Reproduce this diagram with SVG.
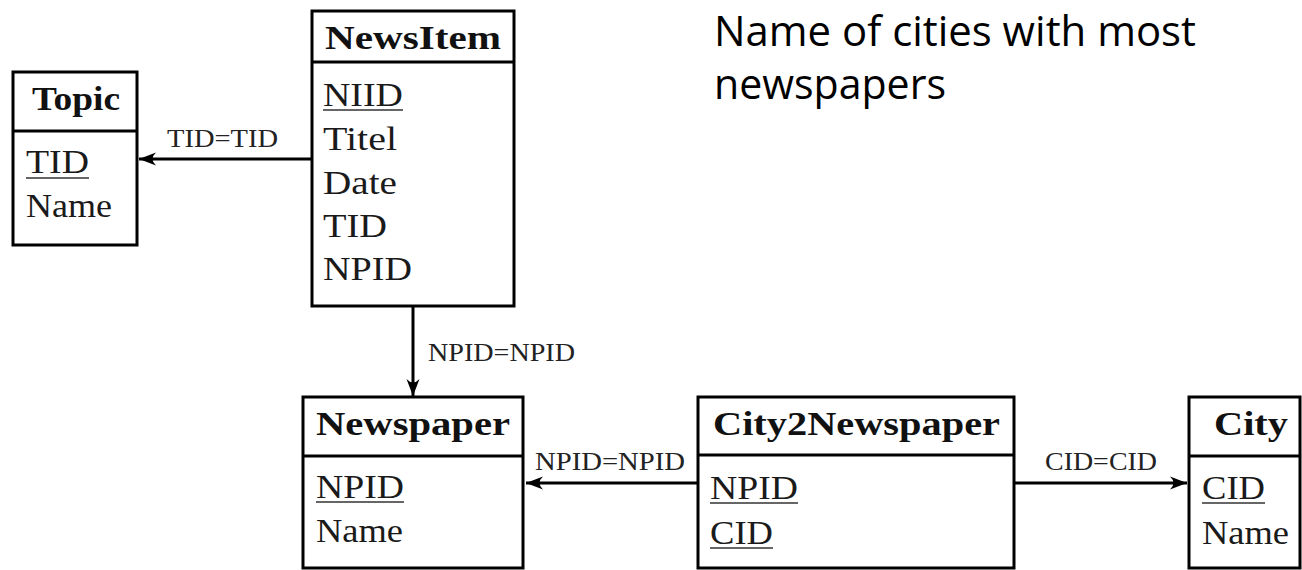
<svg xmlns="http://www.w3.org/2000/svg" width="1302" height="570" viewBox="0 0 1302 570">
<style>
.box{fill:#fff;stroke:#000;stroke-width:3}
.sep{stroke:#000;stroke-width:3}
.hd{font-family:"Liberation Serif",serif;font-weight:bold;font-size:33px;fill:#111}
.at{font-family:"Liberation Serif",serif;font-size:33px;fill:#1a1a1a}
.ul{stroke:#333;stroke-width:1.6}
.lb{font-family:"Liberation Serif",serif;font-size:26px;fill:#222}
.cn{stroke:#000;stroke-width:3;fill:none}
.ttl{font-family:"Open Sans","Liberation Sans",sans-serif;font-size:42px;fill:#000}
</style>
<defs>
<marker id="arr" markerUnits="userSpaceOnUse" markerWidth="18" markerHeight="16" viewBox="0 0 18 16" refX="17" refY="8" orient="auto">
<path d="M0,1.5 Q7,8 0,14.5 L17,8 Z" fill="#000"/>
</marker>
</defs>

<g id="connectors">
<line class="cn" x1="312" y1="159" x2="139" y2="159" marker-end="url(#arr)"/>
<text class="lb" x="167" y="147" textLength="111" lengthAdjust="spacingAndGlyphs">TID=TID</text>
<line class="cn" x1="413" y1="306" x2="413" y2="396" marker-end="url(#arr)"/>
<text class="lb" x="428" y="361" textLength="147" lengthAdjust="spacingAndGlyphs">NPID=NPID</text>
<line class="cn" x1="698" y1="483" x2="526" y2="483" marker-end="url(#arr)"/>
<text class="lb" x="535" y="470" textLength="150" lengthAdjust="spacingAndGlyphs">NPID=NPID</text>
<line class="cn" x1="1014" y1="483" x2="1187" y2="483" marker-end="url(#arr)"/>
<text class="lb" x="1045" y="470" textLength="112" lengthAdjust="spacingAndGlyphs">CID=CID</text>
</g>

<g id="topic">
<rect class="box" x="13" y="72" width="124" height="173"/>
<line class="sep" x1="13" y1="131" x2="137" y2="131"/>
<text class="hd" x="32" y="110" textLength="88" lengthAdjust="spacingAndGlyphs">Topic</text>
<text class="at" x="26" y="173" textLength="63" lengthAdjust="spacingAndGlyphs">TID</text>
<line class="ul" x1="26" y1="178" x2="89" y2="178"/>
<text class="at" x="26" y="217" textLength="86" lengthAdjust="spacingAndGlyphs">Name</text>
</g>

<g id="newsitem">
<rect class="box" x="312" y="11" width="202" height="295"/>
<line class="sep" x1="312" y1="62" x2="514" y2="62"/>
<text class="hd" x="325" y="49" textLength="176" lengthAdjust="spacingAndGlyphs">NewsItem</text>
<text class="at" x="323" y="106" textLength="80" lengthAdjust="spacingAndGlyphs">NIID</text>
<line class="ul" x1="323" y1="110" x2="403" y2="110"/>
<text class="at" x="323" y="150" textLength="74" lengthAdjust="spacingAndGlyphs">Titel</text>
<text class="at" x="323" y="194" textLength="74" lengthAdjust="spacingAndGlyphs">Date</text>
<text class="at" x="323" y="237" textLength="64" lengthAdjust="spacingAndGlyphs">TID</text>
<text class="at" x="323" y="280" textLength="89" lengthAdjust="spacingAndGlyphs">NPID</text>
</g>

<g id="newspaper">
<rect class="box" x="303" y="397" width="220" height="171"/>
<line class="sep" x1="303" y1="456" x2="523" y2="456"/>
<text class="hd" x="316" y="435" textLength="194" lengthAdjust="spacingAndGlyphs">Newspaper</text>
<text class="at" x="316" y="498" textLength="88" lengthAdjust="spacingAndGlyphs">NPID</text>
<line class="ul" x1="316" y1="502" x2="404" y2="502"/>
<text class="at" x="316" y="542" textLength="87" lengthAdjust="spacingAndGlyphs">Name</text>
</g>

<g id="city2newspaper">
<rect class="box" x="698" y="397" width="316" height="171"/>
<line class="sep" x1="698" y1="455" x2="1014" y2="455"/>
<text class="hd" x="713" y="435" textLength="287" lengthAdjust="spacingAndGlyphs">City2Newspaper</text>
<text class="at" x="710" y="499" textLength="88" lengthAdjust="spacingAndGlyphs">NPID</text>
<line class="ul" x1="710" y1="503" x2="798" y2="503"/>
<text class="at" x="710" y="544" textLength="63" lengthAdjust="spacingAndGlyphs">CID</text>
<line class="ul" x1="710" y1="548" x2="773" y2="548"/>
</g>

<g id="city">
<rect class="box" x="1189" y="397" width="111" height="171"/>
<line class="sep" x1="1189" y1="456" x2="1300" y2="456"/>
<text class="hd" x="1214" y="435" textLength="74" lengthAdjust="spacingAndGlyphs">City</text>
<text class="at" x="1202" y="499" textLength="63" lengthAdjust="spacingAndGlyphs">CID</text>
<line class="ul" x1="1202" y1="503" x2="1265" y2="503"/>
<text class="at" x="1202" y="544" textLength="87" lengthAdjust="spacingAndGlyphs">Name</text>
</g>

<g id="title">
<text class="ttl" x="714" y="46" textLength="482" lengthAdjust="spacingAndGlyphs">Name of cities with most</text>
<text class="ttl" x="714" y="99" textLength="232" lengthAdjust="spacingAndGlyphs">newspapers</text>
</g>
</svg>
